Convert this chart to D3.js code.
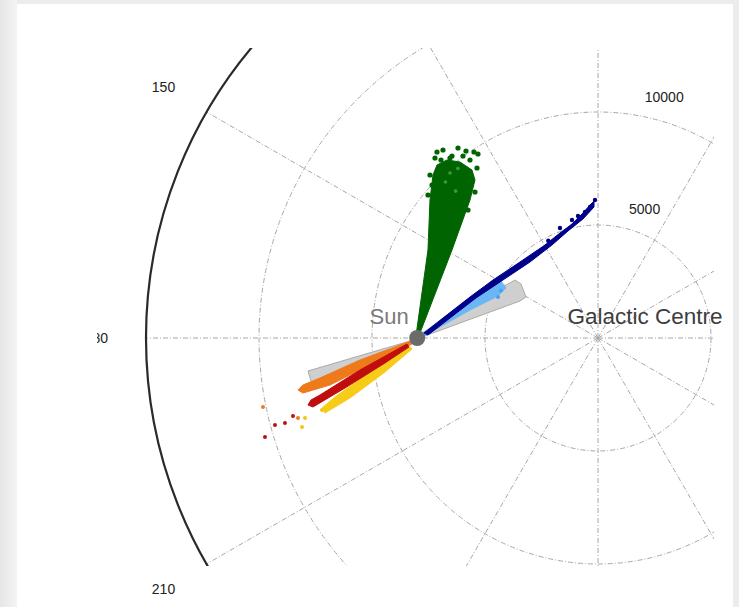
<!DOCTYPE html>
<html><head><meta charset="utf-8">
<script src="https://cdn.jsdelivr.net/npm/d3@7/dist/d3.min.js"></script>
<style>
html,body{margin:0;padding:0;background:#ececec;}
svg{display:block;}
</style></head>
<body>
<svg id="chart" width="739" height="607"></svg>
<script>
// ---- data (Galactocentric Cartesian, parsec; Sun at (-8000,0)) ----
const ringValues = [5000, 10000, 15000];
const outerRadius = 20000;
const angleTicks = [0, 30, 60, 90, 120, 150, 180, 210, 240, 270, 300, 330];
const angleLabels = [150, 180, 210];
const radialLabels = ["5000", "10000"];
const sunPos = [-8000, 0];
const gcPos = [0, 0];

const greenOutline = [[-8054,89],[-7523,3894],[-7434,6107],[-7301,7213],[-7124,7655],[-6682,7877],[-6107,7788],[-5576,7434],[-5443,6992],[-5664,6107],[-6461,3894],[-7877,221]];
const greenStars = [[-7124,8231],[-6859,8319],[-6461,8054],[-6195,8408],[-5841,8275],[-5310,8142],[-5664,7877],[-6638,7655],[-6992,7434],[-6018,7346],[-6328,6992],[-7080,6992],[-5664,6770],[-6770,6549],[-6107,6328],[-7213,7965],[-5487,8231],[-7346,6770],[-7434,7213],[-5354,7523],[-5443,6461],[-7523,6328],[-5753,5664],[-6549,7965],[-5974,8054],[-6947,7877]];
const greenHighlights = [[-6550,7300],[-6200,7500],[-6750,6900],[-6300,6500]];

const darkBlueOutline = [[-7700,221],[-5664,1814],[-4646,2567],[-3452,3363],[-2345,4115],[-1682,4646],[-1151,5045],[-664,5531],[-354,5885],[-177,6062],[-177,5797],[-664,5266],[-1328,4735],[-2036,4115],[-3009,3363],[-4204,2567],[-5399,1770],[-7523,133]];
const darkBlueStars = [[-575,5575],[-354,5797],[-133,6107],[-885,5398],[-1151,5221],[-1682,4867],[-2200,4300]];

const lightBlueOutline = [[-7788,177],[-6107,1460],[-4779,2390],[-4337,2567],[-4071,2213],[-4425,1859],[-5664,1239],[-6992,487],[-7655,89]];
const lightBlueStars = [[-4425,1814],[-4300,2100]];

const grayUpper = [[-7877,177],[-3673,2567],[-3407,2390],[-3186,1814],[-3452,1637],[-7788,44]];
const grayLower = [[-8319,-133],[-12833,-1460],[-12656,-2036],[-8319,-266]];

const orangeOutline = [[-8275,-133],[-10532,-974],[-12302,-1770],[-13054,-2080],[-13275,-2301],[-13054,-2434],[-11859,-2080],[-10089,-1195],[-8231,-266]];
const orangeStars = [[-14824,-3053],[-13275,-3540]];

const redOutline = [[-8452,-266],[-10532,-1416],[-12302,-2522],[-12700,-2744],[-12833,-2965],[-12611,-3053],[-11196,-2213],[-9426,-1106],[-8363,-398]];
const redStars = [[-14735,-4381],[-14293,-3850],[-13851,-3761],[-13496,-3452]];

const yellowOutline = [[-8319,-398],[-10089,-1505],[-11638,-2611],[-12213,-3098],[-12080,-3319],[-10974,-2655],[-9426,-1505],[-8231,-487]];
const yellowStars = [[-12965,-3540],[-13098,-3938],[-12213,-3186]];

// ---- layout ----
const W = 739, H = 607;
const cx = 598, cy = 338, R = 452;
const svg = d3.select("#chart");

const x = d3.scaleLinear().domain([-outerRadius, outerRadius]).range([cx - R, cx + R]);
const y = d3.scaleLinear().domain([-outerRadius, outerRadius]).range([cy + R, cy - R]);
const r = d3.scaleLinear().domain([0, outerRadius]).range([0, R]);
const rad = a => a * Math.PI / 180;

// background panel
svg.append("rect").attr("x", 0).attr("y", 0).attr("width", W).attr("height", H).attr("fill", "#ececec");
const defs = svg.append("defs");
const grad = defs.append("linearGradient").attr("id", "shadeL").attr("x1", 0).attr("x2", 1);
grad.append("stop").attr("offset", 0).attr("stop-color", "#e6e6e6");
grad.append("stop").attr("offset", 1).attr("stop-color", "#f4f4f4");
svg.append("rect").attr("x", 0).attr("y", 0).attr("width", 17).attr("height", H).attr("fill", "url(#shadeL)");
svg.append("rect").attr("x", 17).attr("y", 4).attr("width", 716).attr("height", H - 4).attr("fill", "#ffffff");

defs.append("clipPath").attr("id", "plotClip").append("rect")
  .attr("x", 17).attr("y", 48).attr("width", 714 - 17).attr("height", 566 - 48);
defs.append("clipPath").attr("id", "labelClip").append("rect")
  .attr("x", 97).attr("y", 4).attr("width", 636).attr("height", H - 4);

const plot = svg.append("g").attr("clip-path", "url(#plotClip)");

// rings
plot.selectAll("circle.ring").data(ringValues).join("circle")
  .attr("class", "ring").attr("cx", x(gcPos[0])).attr("cy", y(gcPos[1])).attr("r", d => r(d))
  .attr("fill", "none").attr("stroke", "#a8a8a8").attr("stroke-width", 1)
  .attr("stroke-dasharray", "5,2,1,2");

// spokes
plot.selectAll("line.spoke").data(angleTicks).join("line")
  .attr("class", "spoke")
  .attr("x1", x(0)).attr("y1", y(0))
  .attr("x2", d => x(outerRadius * Math.cos(rad(d))))
  .attr("y2", d => y(outerRadius * Math.sin(rad(d))))
  .attr("stroke", "#a8a8a8").attr("stroke-width", 1)
  .attr("stroke-dasharray", "5,2,1,2");

// outer boundary
plot.append("circle").attr("cx", x(0)).attr("cy", y(0)).attr("r", r(outerRadius))
  .attr("fill", "none").attr("stroke", "#2a2a2a").attr("stroke-width", 2.2);

// angle labels (only those inside the figure)
svg.append("g").attr("clip-path", "url(#labelClip)")
  .selectAll("text").data(angleLabels).join("text")
  .attr("x", d => x(outerRadius * 1.11 * Math.cos(rad(d))))
  .attr("y", d => y(outerRadius * 1.11 * Math.sin(rad(d))))
  .attr("text-anchor", "middle").attr("dominant-baseline", "central")
  .attr("font-family", "Liberation Sans, Arial, sans-serif").attr("font-size", 14)
  .attr("fill", "#222").text(d => d);

// radial labels
svg.selectAll("text.rlab").data(radialLabels).join("text").attr("class", "rlab")
  .attr("x", d => x(+d * Math.cos(rad(80))) + 27)
  .attr("y", d => y(+d * Math.sin(rad(80))) - 18)
  .attr("text-anchor", "middle").attr("dominant-baseline", "central")
  .attr("font-family", "Liberation Sans, Arial, sans-serif").attr("font-size", 14)
  .attr("fill", "#222").text(d => d);

// data marks
const line = d3.line().x(d => x(d[0])).y(d => y(d[1]));
const poly = (data, fill, stroke) => svg.append("path").attr("d", line(data) + "Z")
  .attr("fill", fill).attr("stroke", stroke || fill).attr("stroke-width", 1).attr("stroke-linejoin", "round");
const dots = (data, fill, rr) => svg.append("g").selectAll("circle").data(data).join("circle")
  .attr("cx", d => x(d[0])).attr("cy", d => y(d[1])).attr("r", rr).attr("fill", fill);

poly(grayUpper, "#cfcfcf", "#aaaaaa");
poly(grayLower, "#cfcfcf", "#aaaaaa");

poly(greenOutline, "#006400");
dots(greenStars, "#006400", 2.6);
dots(greenHighlights, "#3f9a3f", 1.8);

poly(lightBlueOutline, "#6bb6f5");
dots(lightBlueStars, "#4aa0ee", 2);
poly(darkBlueOutline, "#00008b");
dots(darkBlueStars, "#00008b", 2.2);

poly(orangeOutline, "#ef7a1a");
dots(orangeStars, "#ef7a1a", 2);
poly(yellowOutline, "#f6cc18");
dots(yellowStars, "#f2c60f", 2);
poly(redOutline, "#c00d0d");
dots(redStars, "#c00d0d", 2);

// Sun & GC
svg.append("circle").attr("cx", x(sunPos[0])).attr("cy", y(sunPos[1])).attr("r", 8).attr("fill", "#6b6b6b");

svg.append("text").attr("x", x(sunPos[0]) - 28).attr("y", y(sunPos[1]) - 14)
  .attr("text-anchor", "middle").attr("font-family", "Liberation Sans, Arial, sans-serif")
  .attr("font-size", 22).attr("fill", "#7a7a7a").text("Sun");
svg.append("text").attr("x", x(gcPos[0]) + 47).attr("y", y(gcPos[1]) - 14)
  .attr("text-anchor", "middle").attr("font-family", "Liberation Sans, Arial, sans-serif")
  .attr("font-size", 22.5).attr("fill", "#3c3c3c").text("Galactic Centre");
</script>
</body></html>
